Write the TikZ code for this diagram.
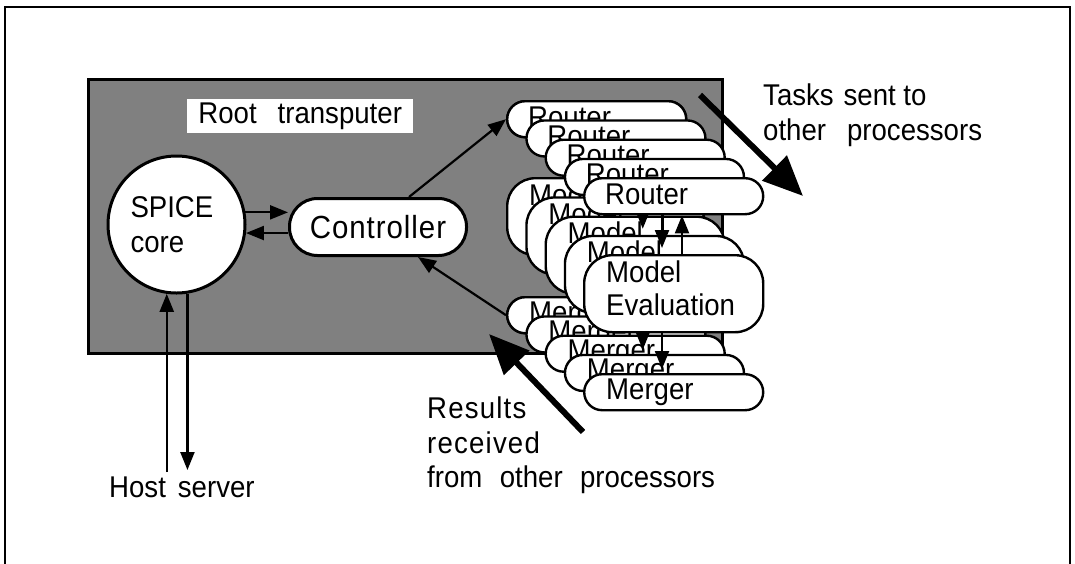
\documentclass[tikz,border=0pt]{standalone}
\usepackage{fontspec}
\setmainfont{Liberation Sans}[FakeStretch=0.92]
\usetikzlibrary{arrows.meta,calc}
\tikzset{
  lbl/.style={font=\fontsize{30}{35}\selectfont, inner sep=0pt, anchor=base west},
  pill/.style={draw, line width=2.4pt, fill=white, anchor=north west,
               minimum width=179pt, inner sep=0pt},
  arr/.style={line width=2.2pt, -{Triangle[length=18pt,width=14pt]}},
  bigarr/.style={line width=6pt, -{Triangle[length=40pt,width=34pt]}},
}
\begin{document}
\begin{tikzpicture}[x=1pt,y=-1pt]
\useasboundingbox (0,0) rectangle (1075,563);
% outer frame
\draw[line width=2pt] (5,570) -- (5,7) -- (1070,7) -- (1070,570);
% root transputer box
\node[draw, line width=3pt, fill=black!50, anchor=north west, inner sep=0pt,
      minimum width=634pt, minimum height=274pt] (root) at (87,78) {};
\node[fill=white, anchor=north west, inner sep=0pt, minimum width=226pt,
      minimum height=34pt, font=\fontsize{30}{35}\selectfont] (rootlbl) at (187,99)
      {Root\hspace{0.7em}transputer};
% SPICE core
\node[circle, draw, line width=3pt, fill=white, minimum size=137pt, inner sep=0pt,
      text width=92pt, align=left, font=\fontsize{30}{35}\selectfont] (spice) at (176.5,224.5)
      {SPICE\\core};
% Controller
\node[draw, line width=3pt, fill=white, rounded corners=28pt, anchor=north west,
      minimum width=177pt, minimum height=57pt, inner sep=0pt,
      font=\fontsize{32}{36}\selectfont\addfontfeatures{LetterSpace=3}] (ctl) at (288,197) {Controller};
% SPICE <-> Controller
\draw[arr] (spice.10) -- (ctl.west |- spice.10);
\draw[arr] (ctl.west |- spice.-7) -- (spice.-7);
% Host server links
\coordinate (h1) at (167,472);
\coordinate (h2) at (187,470);
\draw[arr] (spice.262 |- h1) -- (spice.262);
\draw[arr] (spice.279) -- (spice.279 |- h2);
\node[lbl] (host) at (109,497) {Host\hspace{0.4em}server};
% stacks of processes
\node[pill, minimum height=36pt, rounded corners=18pt] (r0) at (506,100) {};
\node[pill, minimum height=36pt, rounded corners=18pt] (g0) at (506,296) {};
\draw[arr] ($(ctl.north)+(31,0)$) -- (r0.west);
\draw[arr] (g0.west) -- ($(ctl.south)+(40,0)$);
\foreach \i in {0,...,4}{
  \pgfmathsetmacro{\xx}{506+19.25*\i}
  \pgfmathsetmacro{\yy}{19.25*\i}
  \node[pill, minimum height=36pt, rounded corners=18pt] (r\i) at (\xx,100+\yy) {};
  \node[lbl] (rt\i) at ($(r\i.north west)+(22,27)$) {Router};
  \node[pill, minimum height=77pt, rounded corners=28pt] (m\i) at (\xx,177+\yy) {};
  \node[lbl] (mt\i) at ($(m\i.north west)+(23,28)$) {Model};
  \node[lbl] (et\i) at ($(m\i.north west)+(23,61)$) {Evaluation};
  \node[pill, minimum height=36pt, rounded corners=18pt] (g\i) at (\xx,296+\yy) {};
  \node[lbl] (gt\i) at ($(g\i.north west)+(23,26)$) {Merger};
  \draw[arr] ($(r\i.south west)+(79,0)$) -- ($(m\i.north west)+(79,-6)$);
  \draw[arr] ($(m\i.north west)+(99,0)$) -- ($(r\i.south west)+(99,0)$);
  \draw[arr] ($(m\i.south west)+(79,0)$) -- ($(g\i.north west)+(79,-4)$);
}
% big arrows
\coordinate (ta) at (700,95);
\coordinate (tb) at (803,196);
\draw[bigarr] (ta) -- (tb);
\coordinate (ra) at (583,432);
\coordinate (rb) at (489,334);
\draw[bigarr] (ra) -- (rb);
% labels
\node[lbl] (tasks1) at (763,105) {Tasks\hspace{0.33em}sent to};
\node[lbl] (tasks2) at (763,140) {other\hspace{0.7em}processors};
\node[lbl] (res1) at (427,418) {\addfontfeatures{LetterSpace=4}Results};
\node[lbl] (res2) at (427,453) {\addfontfeatures{LetterSpace=4}received};
\node[lbl] (res3) at (427,487) {from\hspace{0.58em}other\hspace{0.58em}processors};
\end{tikzpicture}
\end{document}
